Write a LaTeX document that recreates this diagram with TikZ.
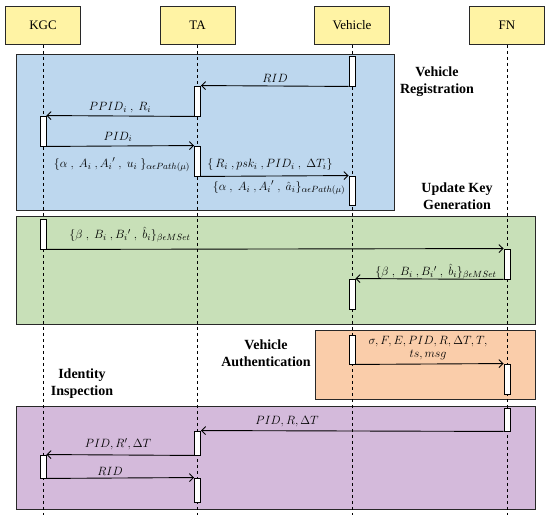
\documentclass[tikz,border=0pt]{standalone}
\usepackage{fontspec}
\setmainfont{Liberation Serif}
\usetikzlibrary{arrows.meta}
\definecolor{hdrfill}{RGB}{255,243,164}
\definecolor{bluefill}{RGB}{189,215,238}
\definecolor{greenfill}{RGB}{200,224,184}
\definecolor{orangefill}{RGB}{250,205,170}
\definecolor{purplefill}{RGB}{212,186,219}
\definecolor{edge}{RGB}{40,40,40}
\tikzset{
  hdr/.style={draw=edge, line width=0.9pt, fill=hdrfill, minimum width=75pt, minimum height=38pt, inner sep=0pt, font=\fontsize{13}{15}\selectfont},
  phase/.style={draw=edge, line width=1pt},
  life/.style={line width=0.9pt, dash pattern=on 3.5pt off 2.5pt},
  bar/.style={draw=black, line width=0.9pt, fill=white, minimum width=6pt, inner sep=0pt},
  msg/.style={line width=0.9pt, -{Straight Barb[length=4pt,width=8pt]}},
  lbl/.style={inner sep=0pt, font=\fontsize{12.5}{14}\selectfont},
  sect/.style={inner sep=0pt, align=center, font=\fontsize{14}{17}\selectfont\bfseries},
}
\begin{document}
\begin{tikzpicture}[x=1pt, y=-1pt]
\useasboundingbox (0,0) rectangle (550,518);
% phase boxes
\path[phase, fill=bluefill] (16,55) rectangle (394,211);
\path[phase, fill=greenfill] (16,217) rectangle (535,325);
\path[phase, fill=orangefill] (315,331) rectangle (535,400);
\path[phase, fill=purplefill] (16,407) rectangle (535,510);
% headers
\node[hdr] (kgc) at (43,25.5) {KGC};
\node[hdr] (ta) at (197.5,25.5) {TA};
\node[hdr] (veh) at (352,25.5) {Vehicle};
\node[hdr] (fn) at (507,25.5) {FN};
% lifeline ends
\coordinate (kgcend) at (43,515);
\coordinate (taend) at (197.5,515);
\coordinate (vehend) at (352,515);
\coordinate (fnend) at (507,515);
\draw[life] (kgc.south) -- (kgcend);
\draw[life] (ta.south) -- (taend);
\draw[life] (veh.south) -- (vehend);
\draw[life] (fn.south) -- (fnend);
% activation bars
\node[bar, minimum height=30pt] (vb1) at (352,71) {};
\node[bar, minimum height=30pt] (tb1) at (197.5,101) {};
\node[bar, minimum height=30pt] (kb1) at (43,131) {};
\node[bar, minimum height=30pt] (tb2) at (197.5,161) {};
\node[bar, minimum height=29pt] (vb2) at (352,190.5) {};
\node[bar, minimum height=30pt] (kb2) at (43,234) {};
\node[bar, minimum height=30pt] (fb1) at (507,264) {};
\node[bar, minimum height=30pt] (vb3) at (352,294) {};
\node[bar, minimum height=29pt] (vb4) at (352,349.5) {};
\node[bar, minimum height=30pt] (fb2) at (507,379) {};
\node[bar, minimum height=23pt] (fb3) at (507,419.5) {};
\node[bar, minimum height=24pt] (tb3) at (197.5,443) {};
\node[bar, minimum height=23pt] (kb3) at (43,466.5) {};
\node[bar, minimum height=24pt] (tb4) at (197.5,490) {};
% messages
\draw[msg] (vb1.south west) -- (tb1.north east);
\draw[msg] (tb1.south west) -- (kb1.north east);
\draw[msg] (kb1.south east) -- (tb2.north west);
\draw[msg] (tb2.south east) -- (vb2.north west);
\draw[msg] (kb2.south east) -- (fb1.north west);
\draw[msg] (fb1.south west) -- (vb3.north east);
\draw[msg] (vb4.south east) -- (fb2.north west);
\draw[msg] (fb3.south west) -- (tb3.north east);
\draw[msg] (tb3.south west) -- (kb3.north east);
\draw[msg] (kb3.south east) -- (tb4.north west);
% message labels
\node[lbl] (l1) at (275,78) {$RID$};
\node[lbl] (l2) at (120,108) {$PPID_i\ ,\ R_i$};
\node[lbl] (l3) at (118,137) {$PID_i$};
\node[lbl] (l4) at (122,165) {$\{\alpha\ ,\ A_i\ ,A_i{}'\ ,\ u_i\ \}_{\alpha\epsilon Path(\mu)}$};
\node[lbl] (l5) at (270,165) {$\{\,R_i\ ,psk_i\ ,PID_i\ ,\ \Delta T_i\}$};
\node[lbl] (l6) at (279,188) {$\{\alpha\ ,\ A_i\ ,A_i{}'\ ,\ \hat{a}_i\}_{\alpha\epsilon Path(\mu)}$};
\node[lbl] (l7) at (130,235) {$\{\beta\ ,\ B_i\ ,B_i{}'\ ,\ \hat{b}_i\}_{\beta\epsilon MSet}$};
\node[lbl] (l8) at (436,272) {$\{\beta\ ,\ B_i\ ,B_i{}'\ ,\ \hat{b}_i\}_{\beta\epsilon MSet}$};
\node[lbl, align=center] (l9) at (428,348.5) {$\sigma, F, E, PID, R, \Delta T, T,$\\[-1pt]$ts, msg$};
\node[lbl] (l10) at (287,422) {$PID, R, \Delta T$};
\node[lbl] (l11) at (118,444) {$PID, R', \Delta T$};
\node[lbl] (l12) at (110,471) {$RID$};
% phase titles
\node[sect] (s1) at (437,82) {Vehicle\\Registration};
\node[sect] (s2) at (457,196) {Update Key\\Generation};
\node[sect] (s3) at (266,353) {Vehicle\\Authentication};
\node[sect] (s4) at (82,384) {Identity\\Inspection};
\end{tikzpicture}
\end{document}
